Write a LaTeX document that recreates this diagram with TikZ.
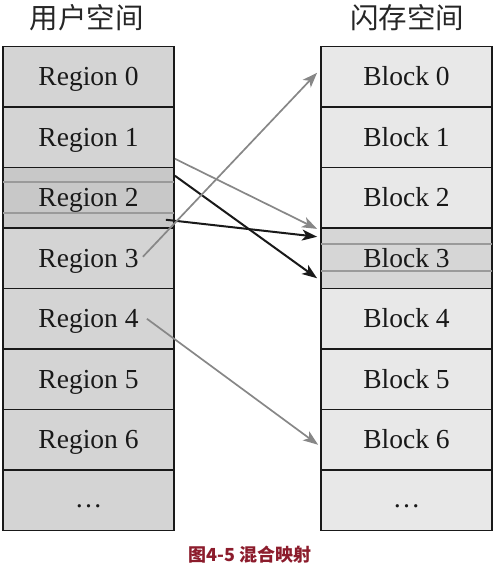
\documentclass[tikz,border=0pt]{standalone}
\usepackage{fontspec}
\setmainfont{Liberation Serif}
\newfontfamily\cjk{Noto Sans CJK SC}
\usetikzlibrary{arrows.meta,calc}
\definecolor{leftfill}{HTML}{D4D4D4}
\definecolor{rightfill}{HTML}{E8E8E8}
\definecolor{hotleft}{HTML}{C8C8C8}
\definecolor{hotright}{HTML}{D6D6D6}
\definecolor{midline}{HTML}{9A9A9A}
\definecolor{arrowgray}{HTML}{878787}
\definecolor{captionred}{HTML}{8C1C2C}
\tikzset{
  cell/.style={draw=black!90, line width=1.8pt, minimum width=171pt, minimum height=60.5pt,
    inner sep=0pt, font=\fontsize{27.5}{30}\selectfont, text height=18pt, text depth=0pt, text=black!90},
  lcell/.style={cell, fill=leftfill},
  rcell/.style={cell, fill=rightfill},
  dotcell/.style={text height=15pt, text depth=0pt},
  inner line/.style={draw=midline, line width=1.5pt},
  grayarrow/.style={draw=arrowgray, line width=1.7pt, -{Stealth[length=15pt,width=11pt,inset=4pt]}},
  blackarrow/.style={draw=black!90, line width=2pt, -{Stealth[length=15pt,width=11pt,inset=4pt]}},
  header/.style={font=\cjk\fontsize{28.5}{30}\selectfont, text=black!85, inner sep=0pt},
}
\begin{document}
\begin{tikzpicture}[x=1pt,y=-1pt]
\useasboundingbox (0,0) rectangle (496,568);
% left column
\node[lcell] (r0) at (88.5,76.75) {Region 0};
\node[lcell] (r1) at (88.5,137.25) {Region 1};
\node[lcell, fill=hotleft] (r2) at (88.5,197.75) {Region 2};
\node[lcell] (r3) at (88.5,258.25) {Region 3};
\node[lcell] (r4) at (88.5,318.75) {Region 4};
\node[lcell] (r5) at (88.5,379.25) {Region 5};
\node[lcell] (r6) at (88.5,439.75) {Region 6};
\node[lcell, dotcell] (r7) at (88.5,500.25) {…};
% right column
\node[rcell] (b0) at (406.5,76.75) {Block 0};
\node[rcell] (b1) at (406.5,137.25) {Block 1};
\node[rcell] (b2) at (406.5,197.75) {Block 2};
\node[rcell, fill=hotright] (b3) at (406.5,258.25) {Block 3};
\node[rcell] (b4) at (406.5,318.75) {Block 4};
\node[rcell] (b5) at (406.5,379.25) {Block 5};
\node[rcell] (b6) at (406.5,439.75) {Block 6};
\node[rcell, dotcell] (b7) at (406.5,500.25) {…};
% inner lines
\draw[inner line] ($(r2.north west)+(1,15.5)$) -- ($(r2.north east)+(-1,15.5)$);
\draw[inner line] ($(r2.north west)+(1,46.5)$) -- ($(r2.north east)+(-1,46.5)$);
\draw[inner line] ($(b3.north west)+(1,17)$) -- ($(b3.north east)+(-1,17)$);
\draw[inner line] ($(b3.north west)+(1,44)$) -- ($(b3.north east)+(-1,44)$);
% headers
\node[header] (h1) at (87,18) {用户空间};
\node[header] (h2) at (407,18) {闪存空间};
% arrows
\draw[grayarrow] ($(r1.east)+(0,21.5)$) -- ($(b2.south west)+(-3,0)$);
\draw[blackarrow] ($(r2.east)+(0,-22)$) -- ($(b3.west)+(-3,20)$);
\draw[blackarrow] ($(r2.east)+(-9,22)$) -- ($(b3.west)+(-3,-21.5)$);
\draw[grayarrow] ($(r3.east)+(-32,-1.5)$) -- ($(b0.west)+(-3,-4)$);
\draw[grayarrow] ($(r4.east)+(-28,0)$) -- ($(b6.west)+(-2,5)$);
% caption
\node[font=\cjk\bfseries\fontsize{18}{20}\selectfont, text=captionred, inner sep=0pt] (cap) at (250,555) {图4-5 混合映射};
\end{tikzpicture}
\end{document}
